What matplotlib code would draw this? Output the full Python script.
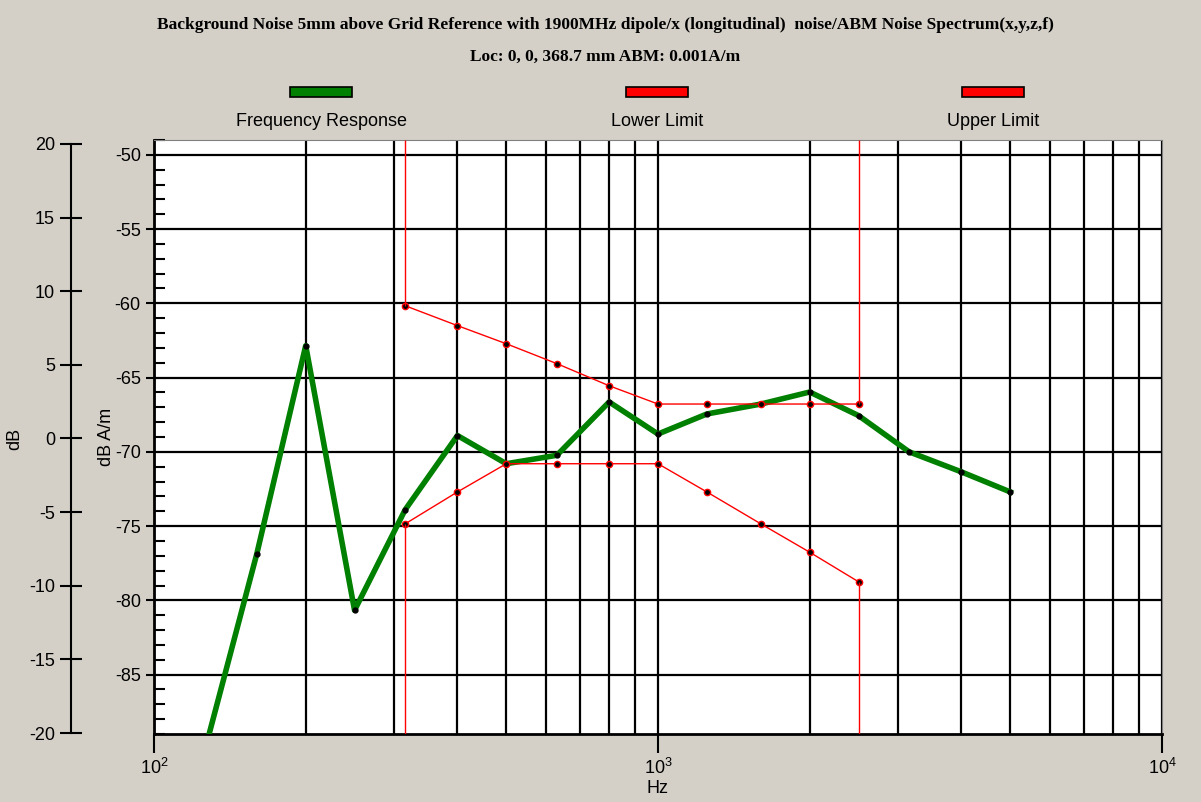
import numpy as np
import matplotlib.pyplot as plt
from matplotlib.patches import Rectangle
from matplotlib.ticker import MultipleLocator, LogLocator, NullFormatter

# frequency response (Hz, dB A/m)
resp_freq = [125, 160, 200, 250, 315, 400, 500, 630, 800, 1000, 1250, 1600, 2000, 2500, 3150, 4000, 5000]
resp_db = [-90.6, -76.85, -62.85, -80.67, -73.9, -68.9, -70.8, -70.23, -66.64, -68.8,
           -67.45, -66.78, -65.97, -67.56, -70.0, -71.35, -72.7]

lim_freq = [315, 400, 500, 630, 800, 1000, 1250, 1600, 2000, 2500]
lower_db = [-74.85, -72.7, -70.8, -70.8, -70.8, -70.8, -72.7, -74.85, -76.76, -78.75]
upper_db = [-60.16, -61.5, -62.72, -64.06, -65.55, -66.78, -66.78, -66.78, -66.78, -66.78]

series_names = ['Frequency Response', 'Lower Limit', 'Upper Limit']
series_colors = ['#008000', '#ff0000', '#ff0000']

title = 'Background Noise 5mm above Grid Reference with 1900MHz dipole/x (longitudinal)  noise/ABM Noise Spectrum(x,y,z,f)'
subtitle = 'Loc: 0, 0, 368.7 mm ABM: 0.001A/m'

bg = '#d4d0c8'
W, H = 1201, 802
plt.rcParams['font.family'] = ['Liberation Sans', 'DejaVu Sans']
plt.rcParams['axes.unicode_minus'] = False

fig = plt.figure(figsize=(W / 100, H / 100), dpi=100, facecolor=bg)

def px_box(l, t, r, b):
    return [l / W, 1 - b / H, (r - l) / W, (b - t) / H]

ax = fig.add_axes(px_box(154, 140, 1162, 734))
ax.set_facecolor('white')
ax.set_xscale('log')
ax.set_xlim(100, 10000)
ax.set_ylim(-89, -49)

ax.xaxis.set_major_locator(LogLocator(base=10))
ax.xaxis.set_minor_locator(LogLocator(base=10, subs=np.arange(2, 10)))
ax.xaxis.set_minor_formatter(NullFormatter())
ax.yaxis.set_major_locator(MultipleLocator(5))
ax.yaxis.set_minor_locator(MultipleLocator(1))

ax.grid(which='both', axis='x', color='black', lw=1.6)
ax.grid(which='major', axis='y', color='black', lw=1.6)
ax.set_axisbelow(True)

ax.tick_params(axis='x', which='major', direction='out', length=14, width=1.5, labelsize=13, pad=3)
ax.tick_params(axis='x', which='minor', length=0)
ax.tick_params(axis='y', which='major', direction='out', length=6, width=1.5, labelsize=13)
ax.tick_params(axis='y', which='minor', direction='in', length=8, width=1.5)
for s in ['top', 'right']:
    ax.spines[s].set_color('#808080')
for s in ['left', 'bottom']:
    ax.spines[s].set_linewidth(2)

ax.set_xlabel('Hz', fontsize=13, labelpad=2)
ax.set_ylabel('dB A/m', fontsize=13, labelpad=0)

# green response
ax.plot(resp_freq, resp_db, color=series_colors[0], lw=4, zorder=3,
        marker='o', ms=3.5, mfc='black', mec='black')

# limits, with vertical lines running off the chart at both ends
ylo, yhi = ax.get_ylim()
ax.plot(lim_freq, lower_db, color=series_colors[1], lw=1, zorder=4,
        marker='o', ms=4.5, mfc='black', mec='red', mew=1)
ax.plot(lim_freq, upper_db, color=series_colors[2], lw=1, zorder=4,
        marker='o', ms=4.5, mfc='black', mec='red', mew=1)
ax.vlines([lim_freq[0], lim_freq[-1]], [lower_db[0], lower_db[-1]], ylo, color='red', lw=1, zorder=4)
ax.vlines([lim_freq[0], lim_freq[-1]], [upper_db[0], upper_db[-1]], yhi, color='red', lw=1, zorder=4)

# secondary dB axis on the far left
ax2 = fig.add_axes(px_box(71, 144, 72, 733))
ax2.set_facecolor('none')
ax2.set_ylim(-20, 20)
ax2.yaxis.set_major_locator(MultipleLocator(5))
ax2.set_xticks([])
for s in ['top', 'right', 'bottom']:
    ax2.spines[s].set_visible(False)
ax2.spines['left'].set_linewidth(1.5)
ax2.tick_params(axis='y', direction='inout', length=16, width=1.5, labelsize=13)
ax2.set_ylabel('dB', fontsize=13, labelpad=4)

# titles
fig.text(0.504, 1 - 25 / H, title, ha='center', va='center', fontsize=12.5,
         family='Liberation Serif', weight='bold')
fig.text(0.504, 1 - 57 / H, subtitle, ha='center', va='center', fontsize=12.5,
         family='Liberation Serif', weight='bold')

# legend strip
leg_x = [321, 657, 993]
for name, col, cx in zip(series_names, series_colors, leg_x):
    fig.patches.append(Rectangle(((cx - 31) / W, 1 - 97 / H), 62 / W, 10 / H,
                                 transform=fig.transFigure, facecolor=col,
                                 edgecolor='black', lw=1.2))
    fig.text(cx / W, 1 - 121 / H, name, ha='center', va='center', fontsize=13)

fig.savefig('out.png', dpi=100, facecolor=bg)
